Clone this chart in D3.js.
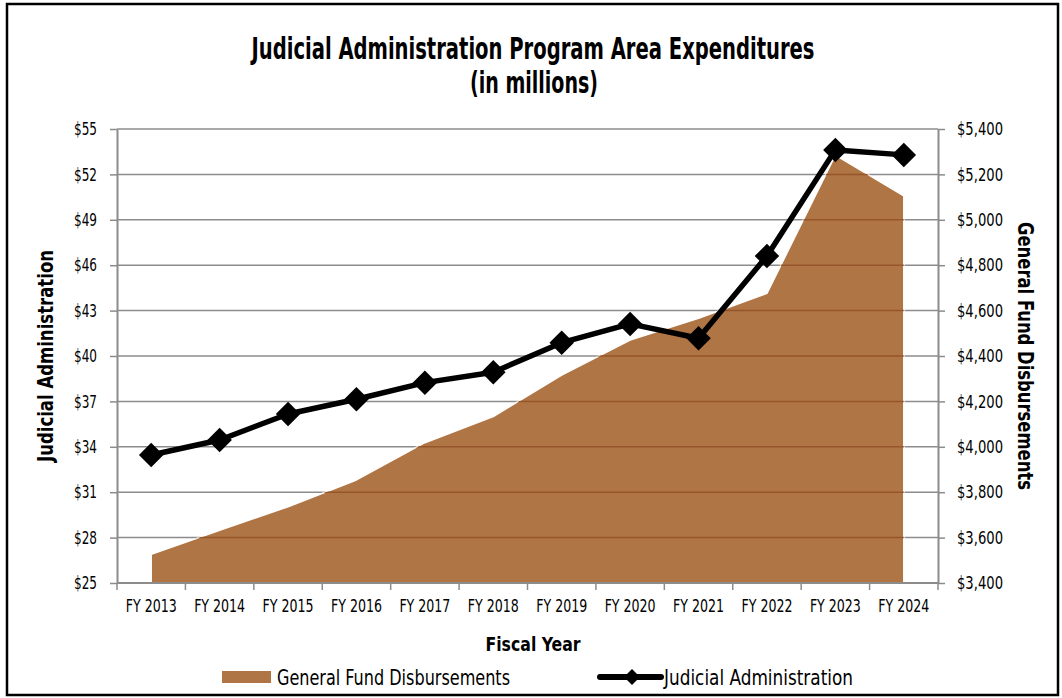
<!DOCTYPE html>
<meta charset='utf-8'>
<body style='margin:0;background:#fff'>
<script src='https://d3js.org/d3.v7.min.js'></script>
<script>
  const years = ['FY 2013', 'FY 2014', 'FY 2015', 'FY 2016', 'FY 2017', 'FY 2018',
                 'FY 2019', 'FY 2020', 'FY 2021', 'FY 2022', 'FY 2023', 'FY 2024'];
  // Judicial Administration, left axis ($ millions)
  const judicial = [33.46, 34.45, 36.17, 37.14, 38.24, 38.93, 40.88, 42.12, 41.17, 46.61, 53.62, 53.29];
  // General Fund Disbursements, right axis ($ millions)
  const generalFund = [3526, 3632, 3736, 3854, 4018, 4133, 4316, 4470, 4566, 4676, 5285, 5105];
  const leftTicks = [25, 28, 31, 34, 37, 40, 43, 46, 49, 52, 55];
  const rightTicks = [3400, 3600, 3800, 4000, 4200, 4400, 4600, 4800, 5000, 5200, 5400];

  const W = 1062, H = 698;
  const margin = { top: 129, right: 124, bottom: 115, left: 117 };
  const width = W - margin.left - margin.right;
  const height = H - margin.top - margin.bottom;
  const font = "'Liberation Sans Narrow', 'DejaVu Sans Condensed', sans-serif";
  const brown = '#b07545';
  const gridColor = '#8c8c8c';

  // condensed look: squeeze text to a given width
  const squeeze = (sel, w) => sel.attr('textLength', w).attr('lengthAdjust', 'spacingAndGlyphs');

  const svg = d3.select('body').append('svg')
    .attr('width', W)
    .attr('height', H)
    .style('font-family', font);

  svg.append('rect')
    .attr('x', 7).attr('y', 4)
    .attr('width', 1051).attr('height', 691)
    .attr('fill', '#fff')
    .attr('stroke', '#000')
    .attr('stroke-width', 2.5);

  const g = svg.append('g')
    .attr('transform', `translate(${margin.left}, ${margin.top})`);

  const x = d3.scaleBand().domain(years).range([0, width]);
  const yL = d3.scaleLinear().domain([25, 55]).range([height, 0]);
  const yR = d3.scaleLinear().domain([3400, 5400]).range([height, 0]);
  const cx = d => x(d) + x.bandwidth() / 2;

  // gridlines
  g.append('g')
    .selectAll('line')
    .data(leftTicks)
    .join('line')
      .attr('x1', 0).attr('x2', width)
      .attr('y1', d => yL(d)).attr('y2', d => yL(d))
      .attr('stroke', gridColor)
      .attr('stroke-width', 1.5);

  // area
  const area = d3.area()
    .x((d, i) => cx(years[i]))
    .y0(height)
    .y1(d => yR(d));

  const defs = svg.append('defs');
  defs.append('clipPath').attr('id', 'areaClip')
    .append('path').datum(generalFund).attr('d', area);

  g.append('path')
    .datum(generalFund)
    .attr('d', area)
    .attr('fill', brown)
    .attr('stroke', '#fff')
    .attr('stroke-width', 1.5)
    .attr('stroke-linejoin', 'round');

  // gridlines seen through the area
  g.append('g')
    .attr('clip-path', 'url(#areaClip)')
    .selectAll('line')
    .data(leftTicks.slice(1))
    .join('line')
      .attr('x1', 0).attr('x2', width)
      .attr('y1', d => yL(d)).attr('y2', d => yL(d))
      .attr('stroke', '#94562a')
      .attr('stroke-width', 1.5);

  // axes
  const axisStyle = sel => {
    sel.select('.domain').attr('stroke', gridColor).attr('stroke-width', 2);
    sel.selectAll('.tick line').attr('stroke', gridColor).attr('stroke-width', 1.5);
    sel.selectAll('.tick text')
      .attr('fill', '#000')
      .style('font-family', font)
      .style('font-size', '18px');
  };

  g.append('g')
    .call(d3.axisLeft(yL).tickValues(leftTicks).tickFormat(d => '$' + d)
      .tickSizeInner(7).tickSizeOuter(0).tickPadding(13))
    .call(axisStyle)
    .selectAll('.tick text').call(squeeze, 23);

  g.append('g')
    .attr('transform', `translate(${width}, 0)`)
    .call(d3.axisRight(yR).tickValues(rightTicks).tickFormat(d3.format('$,'))
      .tickSizeInner(7).tickSizeOuter(0).tickPadding(12))
    .call(axisStyle)
    .selectAll('.tick text').call(squeeze, 46);

  const xAxis = g.append('g')
    .attr('transform', `translate(0, ${height})`)
    .call(d3.axisBottom(x).tickSize(0).tickPadding(16))
    .call(axisStyle);
  xAxis.selectAll('.tick text').call(squeeze, 51);
  xAxis.select('.domain').attr('d', `M0,0H${width}`);
  xAxis.selectAll('.boundary')
    .data(d3.range(years.length + 1))
    .join('line')
      .attr('x1', i => i * x.step()).attr('x2', i => i * x.step())
      .attr('y1', 0).attr('y2', 7)
      .attr('stroke', gridColor)
      .attr('stroke-width', 1.5);

  // line
  const line = d3.line()
    .x((d, i) => cx(years[i]))
    .y(d => yL(d));

  g.append('path')
    .datum(judicial)
    .attr('d', line)
    .attr('fill', 'none')
    .attr('stroke', '#000')
    .attr('stroke-width', 5.5)
    .attr('stroke-linejoin', 'round');

  const diamond = d3.symbol(d3.symbolSquare, 300);
  g.append('g')
    .selectAll('path')
    .data(judicial)
    .join('path')
      .attr('d', diamond)
      .attr('transform', (d, i) => `translate(${cx(years[i])}, ${yL(d)}) rotate(45)`)
      .attr('fill', '#000');

  // titles
  svg.append('text')
    .attr('x', 533).attr('y', 59)
    .attr('text-anchor', 'middle')
    .call(squeeze, 563)
    .style('font-size', '31px').style('font-weight', 'bold')
    .text('Judicial Administration  Program Area Expenditures');

  svg.append('text')
    .attr('x', 534).attr('y', 93)
    .attr('text-anchor', 'middle')
    .call(squeeze, 128)
    .style('font-size', '31px').style('font-weight', 'bold')
    .text('(in millions)');

  svg.append('text')
    .attr('x', 533).attr('y', 651)
    .attr('text-anchor', 'middle')
    .call(squeeze, 95)
    .style('font-size', '20px').style('font-weight', 'bold')
    .text('Fiscal Year');

  svg.append('text')
    .attr('transform', 'translate(53, 356) rotate(-90)')
    .attr('text-anchor', 'middle')
    .call(squeeze, 212)
    .style('font-size', '21px').style('font-weight', 'bold')
    .text('Judicial Administration');

  svg.append('text')
    .attr('transform', 'translate(1018, 356) rotate(90)')
    .attr('text-anchor', 'middle')
    .call(squeeze, 268)
    .style('font-size', '21px').style('font-weight', 'bold')
    .text('General Fund Disbursements');

  // legend
  const legend = svg.append('g');
  legend.append('rect')
    .attr('x', 222).attr('y', 671)
    .attr('width', 49).attr('height', 12)
    .attr('fill', brown);
  legend.append('text')
    .attr('x', 277).attr('y', 685)
    .call(squeeze, 233)
    .style('font-size', '21px')
    .text('General Fund Disbursements');

  legend.append('line')
    .attr('x1', 600).attr('x2', 661)
    .attr('y1', 677).attr('y2', 677)
    .attr('stroke', '#000')
    .attr('stroke-width', 6)
    .attr('stroke-linecap', 'round');
  legend.append('path')
    .attr('d', d3.symbol(d3.symbolSquare, 130))
    .attr('transform', 'translate(632, 677) rotate(45)')
    .attr('fill', '#000');
  legend.append('text')
    .attr('x', 664).attr('y', 685)
    .call(squeeze, 189)
    .style('font-size', '21px')
    .text('Judicial Administration');
</script>
